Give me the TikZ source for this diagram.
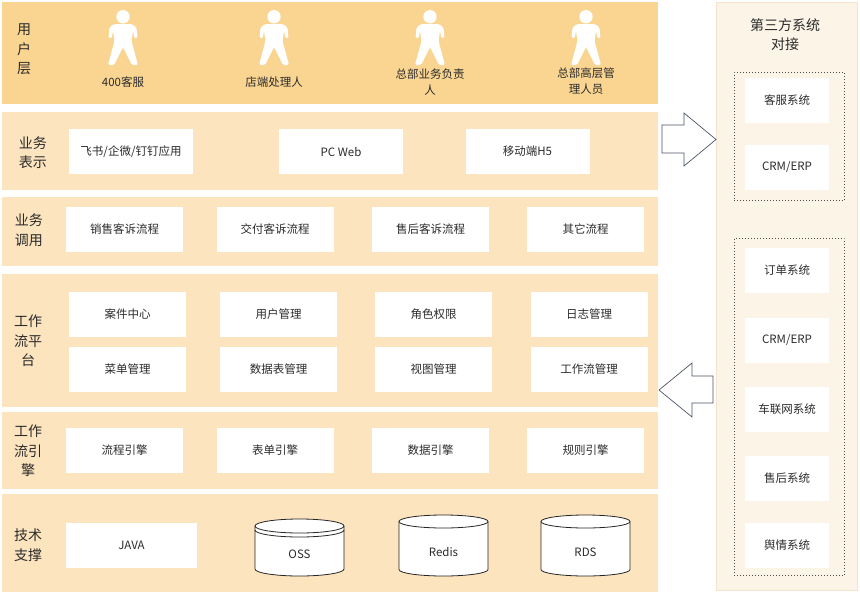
\documentclass[tikz,border=0pt]{standalone}
\usepackage{fontspec}
\setmainfont{Noto Sans CJK SC}
\definecolor{userband}{HTML}{FAD592}
\definecolor{layerband}{HTML}{FCE4BF}
\definecolor{panelfill}{HTML}{FDF4E8}
\definecolor{panelline}{HTML}{F3E3CF}
\definecolor{txt}{HTML}{2B2B2B}
\definecolor{arrowline}{HTML}{4A5566}
\tikzset{
 band/.style={draw=none, inner sep=0pt, anchor=north west},
 layerlabel/.style={text=txt, align=center, font=\fontsize{14}{19.5}\selectfont, inner sep=0pt},
 wbox/.style={fill=white, draw=none, text=txt, font=\fontsize{11.5}{14}\selectfont, minimum height=45pt, inner sep=0pt},
 userlabel/.style={text=txt, align=center, font=\fontsize{11.5}{16}\selectfont, inner sep=0pt},
 cyl/.style={fill=white, draw=black!85, line width=0.8pt},
 cyltext/.style={text=txt, font=\fontsize{11.5}{14}\selectfont, inner sep=0pt},
 blockarrow/.style={fill=white, draw=arrowline, line width=0.7pt, line join=miter},
 grpbox/.style={band, fill=panelfill, draw=black!70, line width=0.8pt, dash pattern=on 0.9pt off 2.1pt},
}
\newcommand{\userfig}[1]{%
\begin{scope}[shift={(#1,0)}]
\fill[white] (0,16.7) circle[radius=6.7pt];
\fill[white, rounded corners=1.5pt] (-9,24) -- (9,24) -- (13.5,27.5) -- (14.5,38) -- (11.5,38.5) -- (10,31) -- (8.5,41) -- (15,65) -- (9,65) -- (0,47) -- (-9,65) -- (-15,65) -- (-8.5,41) -- (-10,31) -- (-11.5,38.5) -- (-14.5,38) -- (-13.5,27.5) -- cycle;
\end{scope}}
\newcommand{\cylshape}[5]{% left, right, ytop-center, ybottom-center, ry
\filldraw[cyl] (#1,#3) -- (#1,#4) arc[start angle=180,end angle=360,x radius={(#2-#1)/2*1pt},y radius=#5pt] -- (#2,#3) arc[start angle=0,end angle=180,x radius={(#2-#1)/2*1pt},y radius=#5pt] -- cycle;
\draw[cyl, fill=none] (#1,#3) arc[start angle=180,end angle=360,x radius={(#2-#1)/2*1pt},y radius=#5pt];
}
\begin{document}
\begin{tikzpicture}[x=1pt,y=-1pt]
\useasboundingbox (0,0) rectangle (860,592);
\fill[white] (0,0) rectangle (860,592);

% layer bands
\node[band, fill=userband, minimum width=656pt, minimum height=102pt] (bandU) at (2,2) {};
\node[band, fill=layerband, minimum width=656pt, minimum height=78pt] (bandP) at (2,112) {};
\node[band, fill=layerband, minimum width=656pt, minimum height=69pt] (bandC) at (2,197) {};
\node[band, fill=layerband, minimum width=656pt, minimum height=133pt] (bandW) at (2,274) {};
\node[band, fill=layerband, minimum width=656pt, minimum height=77pt] (bandE) at (2,412) {};
\node[band, fill=layerband, minimum width=656pt, minimum height=98pt] (bandT) at (2,494) {};

% layer labels
\node[layerlabel] (labU) at (24,49.5) {用\\户\\层};
\node[layerlabel] (labP) at (33,152.5) {业务\\表示};
\node[layerlabel] (labC) at (29,230) {业务\\调用};
\node[layerlabel] (labW) at (28,341) {工作\\流平\\台};
\node[layerlabel] (labE) at (28,451) {工作\\流引\\擎};
\node[layerlabel] (labT) at (28,545) {技术\\支撑};

% users
\userfig{123}
\userfig{274}
\userfig{430}
\userfig{586}
\node[userlabel] (u1) at (123,82) {400客服};
\node[userlabel] (u2) at (274,82) {店端处理人};
\node[userlabel] (u3) at (430,82) {总部业务负责\\人};
\node[userlabel] (u4) at (586,81.5) {总部高层管\\理人员};

% presentation
\node[wbox, minimum width=124pt] (p1) at (131,151.5) {飞书/企微/钉钉应用};
\node[wbox, minimum width=124pt] (p2) at (341,151.5) {PC Web};
\node[wbox, minimum width=124pt] (p3) at (527.5,151.5) {移动端H5};

% business call
\node[wbox, minimum width=117pt] (c1) at (124.5,229.5) {销售客诉流程};
\node[wbox, minimum width=117pt] (c2) at (275,229.5) {交付客诉流程};
\node[wbox, minimum width=117pt] (c3) at (430.5,229.5) {售后客诉流程};
\node[wbox, minimum width=117pt] (c4) at (585.5,229.5) {其它流程};

% workflow platform
\node[wbox, minimum width=117pt] (w1) at (127.5,314.5) {案件中心};
\node[wbox, minimum width=117pt] (w2) at (278.5,314.5) {用户管理};
\node[wbox, minimum width=117pt] (w3) at (433.5,314.5) {角色权限};
\node[wbox, minimum width=117pt] (w4) at (589,314.5) {日志管理};
\node[wbox, minimum width=117pt] (w5) at (127.5,369.5) {菜单管理};
\node[wbox, minimum width=117pt] (w6) at (278.5,369.5) {数据表管理};
\node[wbox, minimum width=117pt] (w7) at (433.5,369.5) {视图管理};
\node[wbox, minimum width=117pt] (w8) at (589,369.5) {工作流管理};

% engines
\node[wbox, minimum width=117pt] (e1) at (124.5,450.5) {流程引擎};
\node[wbox, minimum width=117pt] (e2) at (275,450.5) {表单引擎};
\node[wbox, minimum width=117pt] (e3) at (430.5,450.5) {数据引擎};
\node[wbox, minimum width=117pt] (e4) at (585.5,450.5) {规则引擎};

% tech support
\node[wbox, minimum width=131pt] (t1) at (131.5,545.5) {JAVA};
\cylshape{255}{344}{526}{569}{7}
\draw[cyl, fill=none] (255,530) arc[start angle=180,end angle=360,x radius=44.5pt,y radius=7pt];
\node[cyltext] (t2) at (299.5,554) {OSS};
\cylshape{399}{488}{521.5}{569.5}{6.5}
\node[cyltext] (t3) at (443.5,552) {Redis};
\cylshape{541}{630}{521.5}{569.5}{6.5}
\node[cyltext] (t4) at (585.5,552) {RDS};

% right panel
\node[band, fill=panelfill, draw=panelline, line width=0.6pt, minimum width=141pt, minimum height=588pt] (panel) at (716,2) {};
\node[layerlabel, font=\fontsize{14}{19}\selectfont] (title) at (785,34.5) {第三方系统\\对接};
\node[grpbox, minimum width=110pt, minimum height=128pt] (grpA) at (734,72) {};
\node[grpbox, minimum width=110pt, minimum height=337pt] (grpB) at (734,238) {};
\node[wbox, minimum width=84pt] (s1) at (787,100.5) {客服系统};
\node[wbox, minimum width=84pt] (s2) at (787,167) {CRM/ERP};
\node[wbox, minimum width=84pt] (s3) at (787,270.5) {订单系统};
\node[wbox, minimum width=84pt] (s4) at (787,340) {CRM/ERP};
\node[wbox, minimum width=84pt] (s5) at (787,409.5) {车联网系统};
\node[wbox, minimum width=84pt] (s6) at (787,478.5) {售后系统};
\node[wbox, minimum width=84pt] (s7) at (787,545.5) {舆情系统};

% block arrows
\draw[blockarrow] (662,125) -- (684,125) -- (684,113) -- (716,139.5) -- (684,166) -- (684,153) -- (662,153) -- cycle;
\draw[blockarrow] (713,376) -- (692,376) -- (692,363) -- (659,390) -- (692,417) -- (692,403) -- (713,403) -- cycle;
\end{tikzpicture}
\end{document}
